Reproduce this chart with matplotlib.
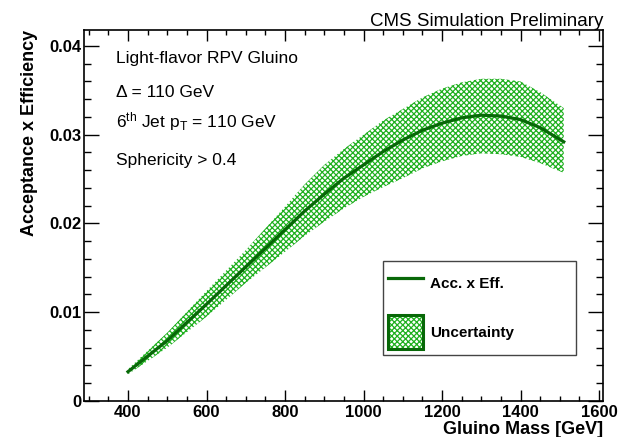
import matplotlib
matplotlib.use("Agg")
import matplotlib.pyplot as plt
from matplotlib.lines import Line2D
from matplotlib.patches import Patch
from matplotlib.legend_handler import HandlerTuple
from matplotlib.ticker import MultipleLocator, FixedFormatter, FixedLocator

# --- DATA ---
mass = [400, 500, 600, 700, 800, 850, 900, 950, 1000, 1050, 1100, 1150, 1200,
        1250, 1300, 1350, 1400, 1450, 1510]
acc_eff = [0.0033, 0.0068, 0.0109, 0.0151, 0.0193, 0.0214, 0.0233, 0.0251, 0.0266,
           0.0281, 0.0294, 0.0305, 0.0313, 0.0319, 0.0322, 0.0321, 0.0317, 0.0308, 0.0292]
unc_low = [0.0030, 0.0060, 0.0095, 0.0133, 0.0168, 0.0186, 0.0202, 0.0217, 0.0230,
           0.0241, 0.0251, 0.0262, 0.0270, 0.0276, 0.0279, 0.0278, 0.0275, 0.0268, 0.0257]
unc_high = [0.0036, 0.0077, 0.0124, 0.0170, 0.0219, 0.0244, 0.0266, 0.0284, 0.0300,
            0.0316, 0.0329, 0.0342, 0.0352, 0.0359, 0.0363, 0.0363, 0.0360, 0.0348, 0.0330]

y_ticks = [0, 0.01, 0.02, 0.03, 0.04]
y_tick_labels = ["0", "0.01", "0.02", "0.03", "0.04"]
x_ticks = [400, 600, 800, 1000, 1200, 1400, 1600]

# --- STYLE ---
plt.rcParams["font.family"] = ["Liberation Sans", "DejaVu Sans"]
plt.rcParams["mathtext.fontset"] = "custom"
plt.rcParams["mathtext.rm"] = "Liberation Sans"
plt.rcParams["mathtext.it"] = "Liberation Sans:italic"
plt.rcParams["mathtext.default"] = "regular"
plt.rcParams["hatch.linewidth"] = 0.9

line_green = "#086808"
hatch_green = "#1fb01f"
hatch = "xxxxxx"

fig = plt.figure(figsize=(6.28, 4.37), dpi=100)
ax = fig.add_axes([0.1338, 0.0824, 0.8264, 0.849])

# uncertainty band + central curve
ax.fill_between(mass, unc_low, unc_high, facecolor="white", edgecolor=hatch_green,
                hatch=hatch, linewidth=0)
ax.plot(mass, acc_eff, color=line_green, linewidth=2.3)

# --- AXES ---
ax.set_xlim(288, 1610)
ax.set_ylim(0, 0.0418)
ax.xaxis.set_major_locator(FixedLocator(x_ticks))
ax.xaxis.set_minor_locator(MultipleLocator(50))
ax.yaxis.set_major_locator(FixedLocator(y_ticks))
ax.yaxis.set_major_formatter(FixedFormatter(y_tick_labels))
ax.yaxis.set_minor_locator(MultipleLocator(0.002))
ax.tick_params(which="both", direction="in", top=True, right=True, width=1.0)
ax.tick_params(axis="x", which="major", length=8, labelsize=12, pad=3)
ax.tick_params(axis="x", which="minor", length=3.8)
ax.tick_params(axis="y", which="major", length=10.8, labelsize=12, pad=2)
ax.tick_params(axis="y", which="minor", length=5.3)
for lab in ax.get_xticklabels() + ax.get_yticklabels():
    lab.set_fontweight("bold")
for sp in ax.spines.values():
    sp.set_linewidth(1.2)

ax.set_xlabel("Gluino Mass [GeV]", fontsize=13, fontweight="bold", loc="right", labelpad=0)
ax.set_ylabel("Acceptance x Efficiency", fontsize=13, fontweight="bold", loc="top")
ax.yaxis.set_label_coords(-0.088, 1.0)
ax.xaxis.set_label_coords(1.0, -0.055)

# --- TEXTS ---
fig.text(0.961, 0.94, "CMS Simulation Preliminary", ha="right", va="baseline", fontsize=13.5)
ax.text(0.062, 0.912, "Light-flavor RPV Gluino", transform=ax.transAxes, fontsize=12.5)
ax.text(0.062, 0.820, "\u0394 = 110 GeV", transform=ax.transAxes, fontsize=12.5)
ax.text(0.062, 0.737, "6$^{th}$ Jet p$_{T}$ = 110 GeV", transform=ax.transAxes, fontsize=12.5)
ax.text(0.062, 0.637, "Sphericity > 0.4", transform=ax.transAxes, fontsize=12.5)

# --- LEGEND ---
line_handle = Line2D([], [], color=line_green, linewidth=2.3)
band_handle = (Patch(facecolor="white", edgecolor=hatch_green, hatch=hatch, linewidth=0),
               Patch(facecolor="none", edgecolor=line_green, linewidth=2.2))
leg = ax.legend([line_handle, band_handle], ["Acc. x Eff.", "Uncertainty"],
                handler_map={tuple: HandlerTuple(ndivide=1, pad=0)},
                loc="lower left", bbox_to_anchor=(0.5755, 0.124, 0.3725, 0.25),
                mode="expand", borderaxespad=0, fancybox=False, framealpha=1,
                edgecolor="#444444", prop={"weight": "bold", "size": 11},
                handlelength=2.3, handleheight=3.1, labelspacing=0.9,
                borderpad=0.36, handletextpad=0.44)
leg.get_frame().set_linewidth(1.0)

fig.savefig("out.png", dpi=100)
